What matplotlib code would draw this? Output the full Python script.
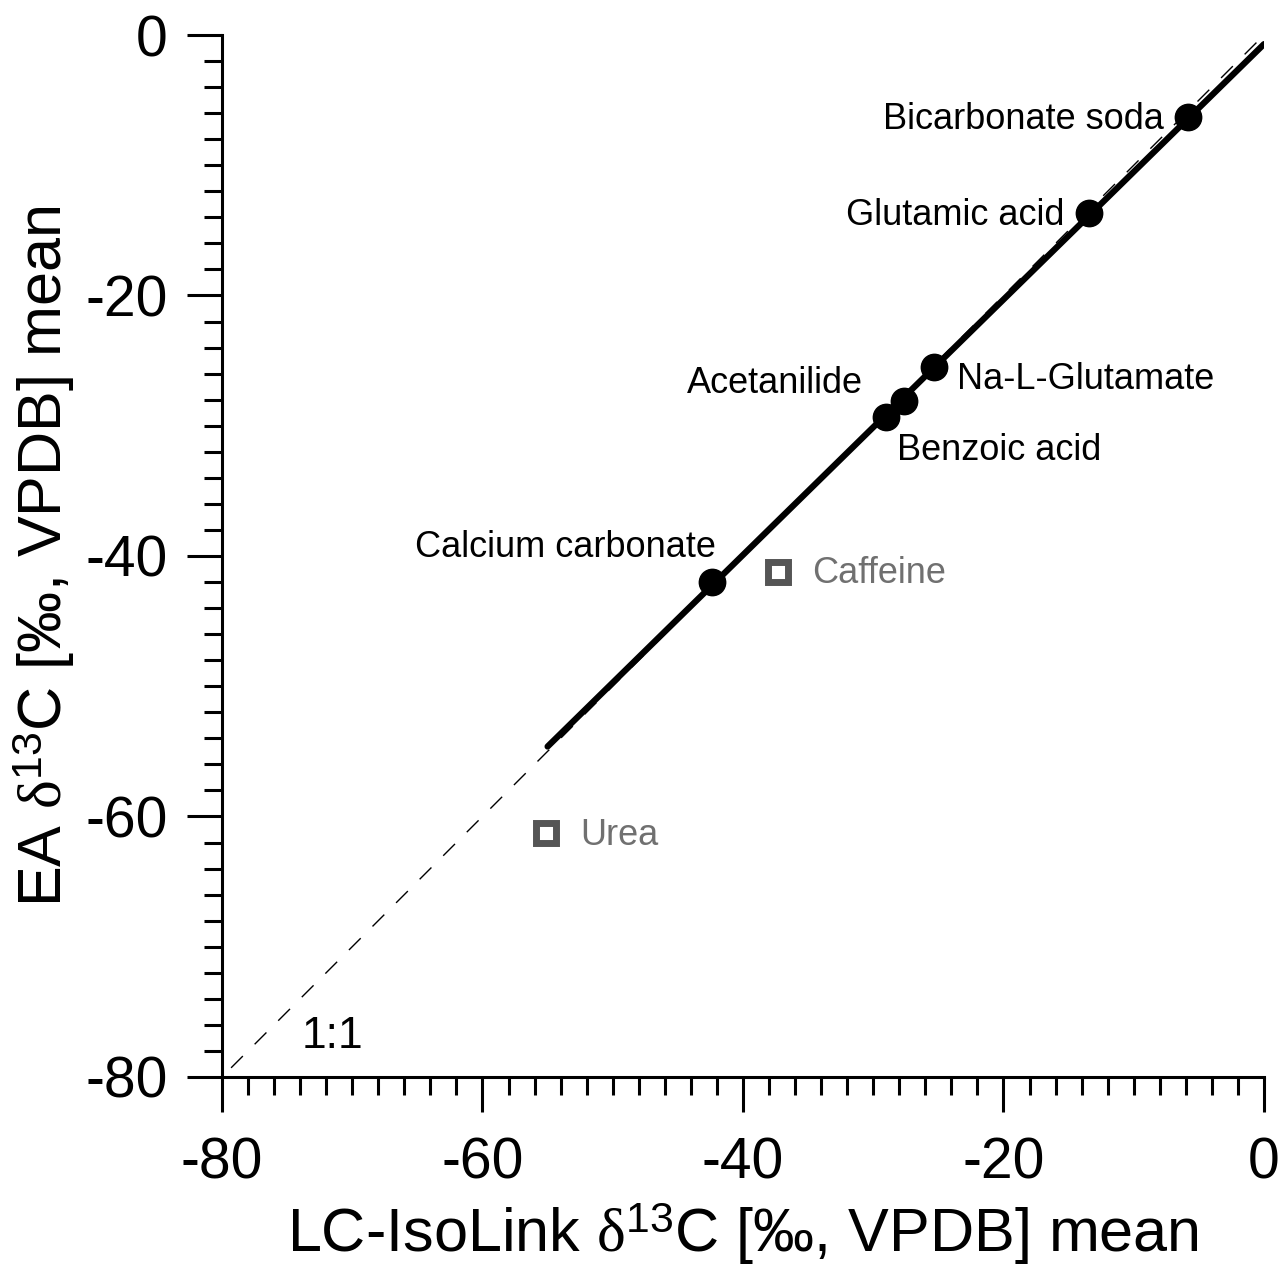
import numpy as np
import matplotlib
matplotlib.use("Agg")
import matplotlib.pyplot as plt

plt.rcParams['font.family'] = ['Liberation Sans', 'DejaVu Sans']
plt.rcParams['axes.unicode_minus'] = False
plt.rcParams['mathtext.fontset'] = 'custom'
plt.rcParams['mathtext.rm'] = 'Liberation Serif'
plt.rcParams['mathtext.sf'] = 'Liberation Sans'
plt.rcParams['mathtext.it'] = 'Liberation Serif:italic'

# Calibrated compounds (filled circles)
cal_names = ["Bicarbonate soda", "Glutamic acid", "Na-L-Glutamate",
             "Benzoic acid", "Acetanilide", "Calcium carbonate"]
cal_x = [-5.8, -13.4, -25.3, -27.6, -29.0, -42.4]
cal_y = [-6.3, -13.7, -25.5, -28.1, -29.3, -42.0]
# label offsets in pixels (dx, dy) and alignment
cal_offsets = [(-25, -2, 'right'), (-25, -2, 'right'), (23, -12, 'left'),
               (-7, -50, 'left'), (-23, 33, 'right'), (4, 35, 'right')]

# Other compounds (open squares)
oth_names = ["Caffeine", "Urea"]
oth_x = [-37.3, -55.1]
oth_y = [-41.2, -61.3]

fit_range = [-55.0, 0.0]
one_to_one = [-79.3, 0.0]

fig = plt.figure(figsize=(12.8, 12.73), dpi=100)
ax = fig.add_axes([0.1734, 0.1540, 0.9875 - 0.1734, 0.9725 - 0.1540])

ax.plot(one_to_one, one_to_one, color='black', lw=1.0, dashes=(12, 12), zorder=2)

slope, icpt = np.polyfit(cal_x, cal_y, 1)
fx = np.array(fit_range)
ax.plot(fx, slope * fx + icpt, color='black', lw=4.5, solid_capstyle='round', zorder=3)

ax.plot(cal_x, cal_y, 'o', color='black', ms=19, zorder=4)
ax.plot(oth_x, oth_y, 's', mfc='white', mec='#555555', mew=5, ms=15, zorder=4)

for n, x, y, (dx, dy, ha) in zip(cal_names, cal_x, cal_y, cal_offsets):
    ax.annotate(n, (x, y), xytext=(dx, dy), textcoords='offset pixels',
                ha=ha, va='center', fontsize=26, color='black')
for n, x, y in zip(oth_names, oth_x, oth_y):
    ax.annotate(n, (x, y), xytext=(34, -2), textcoords='offset pixels',
                ha='left', va='center', fontsize=26, color='#707070')

ax.text(-71.5, -76.9, "1:1", fontsize=32, ha='center', va='center')

ax.set_xlim(-80, 0)
ax.set_ylim(-80, 0)
ax.set_xticks([-80, -60, -40, -20, 0])
ax.set_yticks([-80, -60, -40, -20, 0])
ax.set_xticks(np.arange(-80, 1, 2), minor=True)
ax.set_yticks(np.arange(-80, 1, 2), minor=True)
for s in ['top', 'right']:
    ax.spines[s].set_visible(False)
for s in ['left', 'bottom']:
    ax.spines[s].set_linewidth(2.2)
ax.tick_params(which='major', direction='out', length=25, width=2.2, labelsize=41)
ax.tick_params(which='minor', direction='out', length=13, width=2.2)
ax.tick_params(axis='x', which='major', pad=18)
ax.tick_params(axis='y', which='major', pad=14)

ax.set_xlabel(r"LC-IsoLink $\mathrm{\delta}^{\mathsf{13}}$C [‰, VPDB] mean", fontsize=44, labelpad=7)
ax.set_ylabel(r"EA $\mathrm{\delta}^{\mathsf{13}}$C [‰, VPDB] mean", fontsize=44, labelpad=6)

fig.savefig("out.png", dpi=100)
